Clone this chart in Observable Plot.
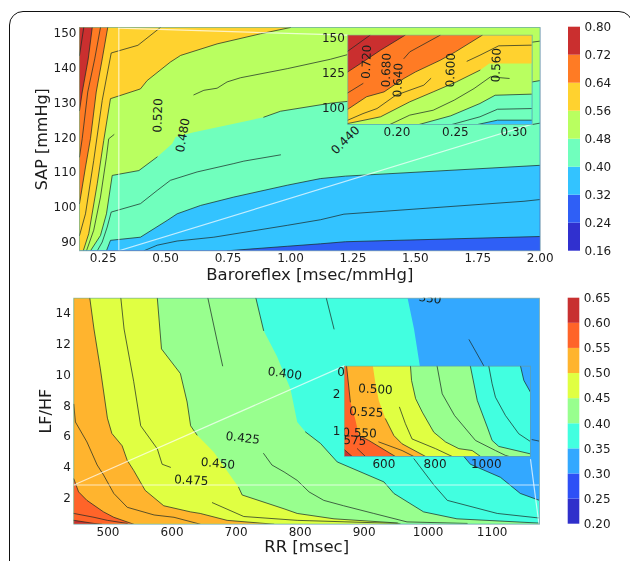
<!DOCTYPE html>
<html><head><meta charset="utf-8">
<script src="https://cdn.jsdelivr.net/npm/d3@7"></script>
<script src="https://cdn.jsdelivr.net/npm/@observablehq/plot@0.6"></script>
<style>
html,body{margin:0;padding:0;width:630px;height:561px;overflow:hidden;background:#fff}
#root{position:relative;width:630px;height:561px;overflow:hidden;filter:blur(0.45px)}
#root svg{position:absolute;left:0;top:0;max-width:none;background:transparent}
#card{position:absolute;left:9px;top:11px;width:624px;height:570px;border:1px solid #111;border-radius:14px;box-sizing:border-box}
</style></head><body>
<div id="root"><div id="card"></div></div>
<script>
const W = 630, H = 561;
// ---------- colour levels ----------
const sapLevels = [0.16,0.24,0.32,0.40,0.48,0.56,0.64,0.72,0.80];
const sapColors = ["#3030cf","#2f5ff6","#33c3ff","#70ffbd","#b9ff60","#ffd22f","#ff7b24","#ca2f2f"];
const lfLevels = [0.20,0.25,0.30,0.35,0.40,0.45,0.50,0.55,0.60,0.65];
const lfColors = ["#2f2fcb","#2e50f6","#33a8ff","#42ffe0","#98ff8e","#e0ff42","#ffb42e","#ff6429","#c83030"];

// ---------- top panel contours: [baroreflex, SAP] ----------
const top32 = [[.746,87.6],[.987,88.9],[1.12,89.6],[1.22,90.2],[2,91.7]];
const top36 = [[.413,87.6],[.466,89.2],[.546,90.4],[.693,91.5],[.987,94.9],[1.12,96.5],[1.214,98.1],[1.935,101.8],[2,102.3]];
const top40 = [[.263,87.6],[.279,90.6],[.399,91.5],[.506,96.3],[.546,98.2],[.64,100.6],[.773,103],[.987,106.4],[1.12,108.3],[1.22,109],[2,112.1]];
const top44a = [[.226,87.6],[.246,90.1],[.266,94.4],[.282,98.7],[.399,101.1],[.466,104.9],[.519,107.8],[.626,110.2],[.773,112.6],[.813,113.3],[.96,115.1]];
const top44b = [[1.968,123.8],[2,124.2]];
const top48 = [[.199,87.6],[.239,92],[.263,98.2],[.286,109.2],[.393,110.6],[.466,114.5],[.526,118.3],[.54,120.2],[.613,121.6],[.773,124],[.893,125.9],[.96,127.6],[1.16,129.9],[1.968,136],[2,136.4]];
const top52a = [[.183,87.6],[.212,93.5],[.239,103],[.263,114.5],[.272,119.7],[.293,120.9]];
const top52b = [[.613,132.3],[.653,133.6],[.706,134.2],[.746,136],[.8,137.2],[.987,139.8],[1.16,142.5],[1.227,143.8]];
const top52c = [[1.968,147.4],[2,147.7]];
const top56 = [[.17,87.6],[.192,92.5],[.226,106.8],[.252,119.2],[.279,131.2],[.399,134],[.426,136.4],[.519,141.7],[.56,143.6],[.706,146.9],[.88,149.8],[1,151.6]];
const top60 = [[.155,92],[.179,98.2],[.212,113.5],[.246,130.7],[.282,144.3],[.389,146.5],[.479,151.6]];
const top64 = [[.155,101.1],[.166,105.9],[.179,111.6],[.199,119.8],[.222,133.1],[.246,142.6],[.268,151.6]];
const top68 = [[.155,114.5],[.166,119.8],[.188,133.1],[.216,142.6],[.239,151.6]];
const top72 = [[.155,127.8],[.166,133.1],[.19,142.6],[.206,151.6]];
const top76 = [[.155,143.6],[.172,151.6]];
const topGuides = [[[.3125,87.6],[.3125,151.6]],[[.3125,151.4],[1.228,149.4]],[[.3125,87.6],[1.968,123.9]]];
const topLabels = [["0.520",.469,126.4,-88],["0.480",.569,120.7,-80],["0.440",1.22,119.3,-45]];

// ---------- top inset ----------
const ins40 = [[.269,88.1],[.286,91.2],[.3157,91.2]];
const ins44 = [[.247,88.1],[.271,93.6],[.286,99],[.3157,99.5]];
const ins48 = [[.219,88.1],[.246,94.3],[.271,103.1],[.284,109],[.3157,109.8]];
const ins52 = [[.194,88.1],[.211,94.8],[.231,98.3],[.249,105.5],[.266,113.8],[.28,122.1],[.296,121]];
const ins56 = [[.158,88.8],[.186,93.6],[.211,104.3],[.231,111.4],[.251,118.6],[.271,126.9],[.279,131.7],[.3157,131.7]];
const ins60a = [[.158,91.2],[.171,95.9],[.183,99.5],[.199,109],[.223,116.2],[.229,121]];
const ins60b = [[.26,133.3],[.271,137.6],[.287,144.3],[.3157,144.8]];
const ins64 = [[.158,99],[.174,107.9],[.189,111.4],[.206,121],[.216,125.7],[.237,134],[.25,140],[.273,151.9]];
const ins68a = [[.158,110.7],[.171,117.4]];
const ins68b = [[.206,135.2],[.211,140],[.237,151.9]];
const ins72 = [[.158,125.7],[.169,131.7],[.186,141.2],[.207,151.9]];
const ins76 = [[.158,140.5],[.177,151.9]];
const insLabels = [["0.720",.174,132.9,-88],["0.680",.191,126.9,-88],["0.640",.201,119.8,-88],["0.600",.246,126.9,-88],["0.560",.285,130.5,-88]];

// ---------- bottom panel contours: [RR, LF/HF] ----------
const b325a = [[1064,12.3],[1087,10.6]];
const b325b = [[1162.5,5.8],[1174,5.7]];
const b35 = [[968,15],[978,13],[987,10.6],[1056,4.7],[1066,4.2],[1113,3.35],[1144,2.3],[1174,1.85]];
const b375a = [[841,15],[853,13]];
const b375b = [[978,4.55],[1009,2.85],[1030,1.85],[1108,1],[1174,.7]];
const b40 = [[731,15],[743,12.9],[764,11.2],[785,9.1],[795.5,6.95],[808.5,6.3],[832,5.55],[858,4.35],[931,3.05],[946.5,2.3],[993,1.1],[1045,.65],[1170,.38],[1174,.38]];
const b425a = [[656,15],[670.5,12.2],[679,10.6]];
const b425b = [[743,4.9],[756,4.15],[775,3.7],[795.5,3.15],[814,2.4],[837,1.85],[868,1.5],[915,1],[967,.45],[1061,.35]];
const b45 = [[577,15],[583.5,11.7],[613,10.1],[623.5,8.25],[629,6.7],[639,6.1],[665,5],[696.5,3.15],[704,2.7],[709.5,2.2],[775,1.3],[795.5,1],[853,.65],[952,.38],[957,.3]];
const b475a = [[520,15],[525,13],[540,9.6],[551,6.7],[577,5.2],[584.5,4.2],[597.5,4]];
const b475b = [[663,1.7],[712,.8],[795.5,.55],[952,.35]];
const b50 = [[471.5,15],[478,13],[488,10.4],[499,7.2],[506,6.2],[522,5.4],[530,4.45],[540,3.8],[558,2.5],[587,1.5],[629,1.1],[644,1],[686,.55],[759,.3]];
const b525 = [[446.5,8.1],[449,6.95],[467,5.65],[483,4.15],[493,3.5],[509,2.3],[530,1.4],[572,.9],[603,.75],[644,.3]];
const b55 = [[446.5,3.25],[454,2.4],[467,1.85],[493,1.1],[509,.75],[540,.3]];
const b575 = [[446.5,1],[478,.75],[499,.55],[530,.35]];
const b60 = [[446.5,.55],[478,.35],[490,.3]];
const botGuides = [[[446.5,2.85],[1174,2.85]],[[446.5,2.85],[869,10.6]],[[1160,4.5],[1173,.35]]];
const botLabels = [["0.400",776,10.1,8],["0.425",710.5,5.9,7],["0.450",671.5,4.25,5],["0.475",630,3.15,3],["0",864,10.2,0],["350",1003,14.98,8]];

// ---------- bottom inset ----------
const i35 = [[1134,2.74],[1147,2.36],[1173,2.04]];
const i375 = [[1010,2.74],[1023,2.27],[1036,1.91],[1075,1.42],[1127,.93],[1173,.72]];
const i40 = [[938,2.74],[965,1.82],[1004,1.11],[1023,.75],[1049,.59],[1173,.39]];
const i425 = [[808,2.74],[828,2],[876,1.42],[958,.75],[1036,.48],[1075,.35],[1090,.32]];
const i45 = [[704,2.74],[708,2.36],[724,1.87],[750,1.51],[795,.97],[841,.71],[893,.53],[945,.48],[978,.32]];
const i475 = [[661,1.64],[684,1.2],[710,.79],[802,.53],[867,.32]];
const i50 = [[557,2.74],[567,2.27],[580,1.82],[606,1.33],[639,.88],[671,.66],[763,.32]];
const i525 = [[580,.71],[671,.48],[717,.32]];
const i55 = [[454,2.74],[469,1.78],[489,1.29],[502,.88],[541,.75],[645,.32]];
const i575 = [[496,.53],[528,.32]];
const i60 = [[446,.5],[476,.32]];
const i2Labels = [["0.500",567,2.12,3],["0.525",531,1.51,3],["0.550",505,.95,2],["0.575",464,.75,2]];

// ---------- axis ticks ----------
const topX = [.25,.5,.75,1,1.25,1.5,1.75,2], topY = [90,100,110,120,130,140,150];
const ins1X = [.2,.25,.3], ins1Y = [100,125,150];
const botX = [500,600,700,800,900,1000,1100], botY = [2,4,6,8,10,12,14];
const ins2X = [600,800,1000], ins2Y = [1,2];

const INK = "#1c2a26", TXT = "#1c1c1c", FONT = "'DejaVu Sans'";
const xy = {x:d=>d[0], y:d=>d[1]};
const polyUL = (c,xd,yd) => {           // high values toward upper-left
  const p = c.slice();
  if (c[c.length-1][0] >= xd[1]) p.push([xd[1],yd[1]]);
  p.push([xd[0],yd[1]],[xd[0],yd[0]]);
  return p;
};
const polyLL = (c,xd,yd) => {           // high values toward lower-left
  const p = c.slice();
  if (c[c.length-1][0] >= xd[1]) p.push([xd[1],yd[0]]);
  p.push([xd[0],yd[0]],[xd[0],yd[1]]);
  return p;
};
function panel({box,xd,yd,xt,yt,xf,yf,base,fills,lines,guides=[],labels=[],xTitle,yTitle,yTitleDx,xTitleDy,xPad=3,yPad=3}){
  const [l,t,r,b] = box;
  const marks = [Plot.frame({fill:base,stroke:"none"})];
  for (const [poly,color] of fills) marks.push(Plot.line(poly,{...xy,fill:color,stroke:"none",clip:true}));
  for (const s of lines) marks.push(Plot.line(s,{...xy,stroke:INK,strokeWidth:1,strokeOpacity:.72,clip:true}));
  for (const g of guides) marks.push(Plot.line(g,{...xy,stroke:"#fff",strokeWidth:1.2,strokeOpacity:.7,clip:true}));
  if (labels.length) marks.push(Plot.text(labels,{x:d=>d[1],y:d=>d[2],text:d=>d[0],rotate:d=>d[3],fontSize:12,fill:"#16211d",clip:true}));
  marks.push(Plot.frame({stroke:"#6f9a8c",strokeWidth:1,strokeOpacity:.55}));
  marks.push(Plot.axisX(xt,{anchor:"bottom",tickSize:0,tickPadding:xPad,label:null,tickFormat:xf,fontSize:12,fill:TXT}));
  marks.push(Plot.axisY(yt,{anchor:"left",tickSize:0,tickPadding:yPad,label:null,tickFormat:yf,fontSize:12,fill:TXT}));
  if (xTitle) marks.push(Plot.text([xTitle],{frameAnchor:"bottom",dy:xTitleDy,fontSize:16.5,fill:TXT,text:d=>d}));
  if (yTitle) marks.push(Plot.text([yTitle],{frameAnchor:"left",textAnchor:"middle",dx:yTitleDx,rotate:-90,fontSize:16,fill:TXT,text:d=>d}));
  const svg = Plot.plot({width:W,height:H,marginLeft:l,marginTop:t,marginRight:W-r,marginBottom:H-b,
    x:{domain:xd,axis:null},y:{domain:yd,axis:null},
    style:{fontFamily:FONT,fontSize:"12px",background:"transparent",overflow:"visible"},marks});
  document.getElementById("root").appendChild(svg);
}
function colorbar({box,levels,colors}){
  const [l,t,r,b] = box;
  const bands = colors.map((c,i)=>({y1:levels[i],y2:levels[i+1],c}));
  const svg = Plot.plot({width:W,height:H,marginLeft:l,marginTop:t,marginRight:W-r,marginBottom:H-b,
    x:{domain:[0,1],axis:null},y:{domain:[levels[0],levels[levels.length-1]],axis:null},
    style:{fontFamily:FONT,fontSize:"12px",background:"transparent"},
    marks:[
      Plot.rect(bands,{x1:0,x2:1,y1:"y1",y2:"y2",fill:"c"}),
      Plot.axisY(levels,{anchor:"right",tickSize:0,tickPadding:4,label:null,tickFormat:d3.format(".2f"),fontSize:12,fill:TXT})
    ]});
  document.getElementById("root").appendChild(svg);
}
const f2 = d3.format(".2f"), fd = d3.format("d");

const topXd=[.155,2], topYd=[87.6,151.6];
panel({box:[79,27,539.7,250.3],xd:topXd,yd:topYd,xt:topX,yt:topY,xf:f2,yf:fd,base:sapColors[1],
  fills:[[top32,sapColors[2]],[top40,sapColors[3]],[top48,sapColors[4]],[top56,sapColors[5]],[top64,sapColors[6]],[top72,sapColors[7]]].map(([c,k])=>[polyUL(c,topXd,topYd),k]),
  lines:[top32,top36,top40,top44a,top44b,top48.slice(0,6),top48.slice(10),top52a,top52b,top52c,top56,top60,top64,top68,top72,top76],
  guides:topGuides,labels:topLabels,xTitle:"Baroreflex [msec/mmHg]",yTitle:"SAP [mmHg]",xTitleDy:29,yTitleDx:-38});

const i1Xd=[.158,.3157], i1Yd=[88.1,151.9];
panel({box:[347.3,34.7,531.7,124],xd:i1Xd,yd:i1Yd,xt:ins1X,yt:ins1Y,xf:f2,yf:fd,base:sapColors[2],
  fills:[[ins40,sapColors[3]],[ins48,sapColors[4]],[ins56,sapColors[5]],[ins64,sapColors[6]],[ins72,sapColors[7]]].map(([c,k])=>[polyUL(c,i1Xd,i1Yd),k]),
  lines:[ins40,ins44,ins48,ins52,ins56.slice(0,6),ins60a,ins60b,ins64,ins68a,ins68b,ins72,ins76],
  labels:insLabels});

const botXd=[446.5,1174], botYd=[.3,15];
panel({box:[73.3,297.7,539,523.7],xd:botXd,yd:botYd,xt:botX,yt:botY,xf:fd,yf:fd,base:lfColors[2],
  fills:[[b35,lfColors[3]],[b40,lfColors[4]],[b45,lfColors[5]],[b50,lfColors[6]],[b55,lfColors[7]],[b60,lfColors[8]]].map(([c,k])=>[polyLL(c,botXd,botYd),k]),
  lines:[b325a,b325b,b35.slice(3),b375a,b375b,b40.slice(0,2),b40.slice(5),b425a,b425b,b45.slice(0,6),b45.slice(8),b475a,b475b,b50,b525,b55,b575,b60],
  guides:botGuides,labels:botLabels,xTitle:"RR [msec]",yTitle:"LF/HF",xTitleDy:28,yTitleDx:-28});

const i2Xd=[446,1173], i2Yd=[.32,2.74];
panel({box:[344,365.7,530,456],xd:i2Xd,yd:i2Yd,xt:ins2X,yt:ins2Y,xf:fd,yf:fd,base:lfColors[2],
  fills:[[i35,lfColors[3]],[i40,lfColors[4]],[i45,lfColors[5]],[i50,lfColors[6]],[i55,lfColors[7]],[i60,lfColors[8]]].map(([c,k])=>[polyLL(c,i2Xd,i2Yd),k]),
  lines:[i35,i375,i40,i425,i45,i475,i50.slice(3),i525,i55.slice(0,2),i55.slice(3),i575,i60],
  labels:i2Labels,yPad:4});

colorbar({box:[568,26.7,580,250.7],levels:sapLevels,colors:sapColors});
colorbar({box:[567.7,297.7,579.3,523.7],levels:lfLevels,colors:lfColors});
</script>
</body></html>
